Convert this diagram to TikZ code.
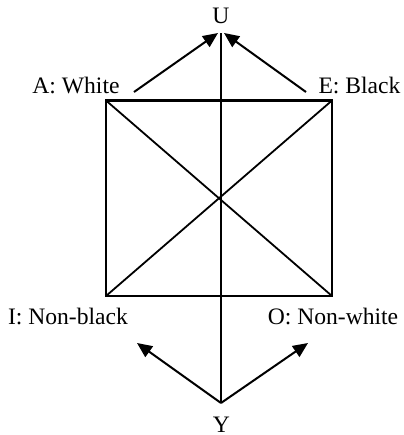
\documentclass[tikz,border=0pt]{standalone}
\usepackage{fontspec}
\setmainfont{Liberation Serif}
\usetikzlibrary{arrows.meta}
\begin{document}
\begin{tikzpicture}[x=0.5pt,y=-0.5pt,
  edge/.style={line width=0.9pt},
  frame/.style={line width=1.4pt},
  arr/.style={line width=1pt,-{Triangle[length=7.5pt,width=6.5pt]}},
  lbl/.style={inner sep=0pt,anchor=base,font=\fontsize{11.8}{14}\selectfont}]
\useasboundingbox (0,0) rectangle (403,435);
% square corners
\coordinate (tl) at (106,100.5);
\coordinate (tr) at (332,100.5);
\coordinate (bl) at (106,296);
\coordinate (br) at (332,296);
\coordinate (utip) at (221,33);
\coordinate (ytip) at (221,403);
\coordinate (al) at (134,92);
\coordinate (er) at (306,92);
\coordinate (ul) at (218,33);
\coordinate (ur) at (224,33);
\coordinate (il) at (137,343);
\coordinate (or) at (308,343);
% labels
\node[lbl] (U) at (221,23) {U};
\node[lbl] (Y) at (221.5,432) {Y};
\node[lbl] (A) at (76,93) {A: White};
\node[lbl] (E) at (359.5,93) {E: Black};
\node[lbl] (I) at (68,324) {I: Non-black};
\node[lbl] (O) at (333,324) {O: Non-white};
% diagonals and axis
\draw[edge] (tl) -- (br);
\draw[edge] (tr) -- (bl);
\draw[edge] (utip) -- (ytip);
% square
\draw[frame] (tl) -- (tr) -- (br) -- (bl) -- cycle;
% arrows
\draw[arr] (al) -- (ul);
\draw[arr] (er) -- (ur);
\draw[arr] (ytip) -- (il);
\draw[arr] (ytip) -- (or);
\end{tikzpicture}
\end{document}
